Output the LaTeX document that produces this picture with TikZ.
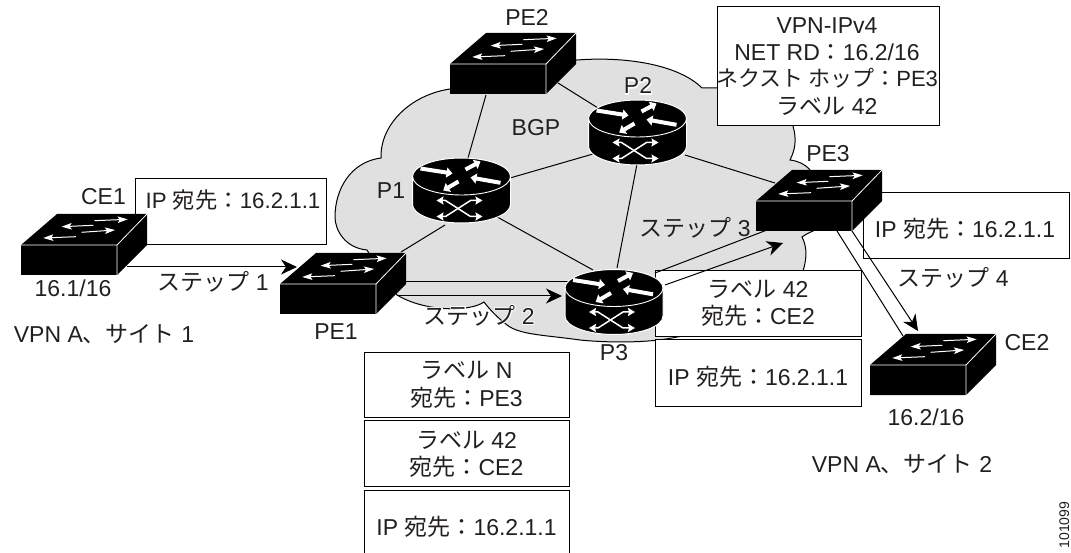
\documentclass[tikz,border=0pt]{standalone}
\usepackage{fontspec}
\setmainfont{Liberation Sans}
\newfontfamily\jpfont{Noto Sans CJK JP}
\newfontfamily\jphalo[FakeBold=8]{Noto Sans CJK JP}
\newfontfamily\lathalo[FakeBold=8]{Liberation Sans}
\newcommand\jp[1]{{\jpfont #1}}
\usetikzlibrary{arrows.meta}
\definecolor{cloudgray}{HTML}{E0E0E0}
\definecolor{inkgray}{HTML}{231F20}
\tikzset{
  lbl/.style={anchor=base,inner sep=0pt,text=inkgray,font=\fontsize{23}{27}\selectfont},
  smalllbl/.style={lbl,font=\fontsize{22.3}{26}\selectfont},
  infobox/.style={draw=black,fill=white,line width=1pt},
  link/.style={draw=black,line width=1pt},
  flow/.style={draw=black,line width=1pt,-{Stealth[length=16pt,width=15pt,inset=5pt]}},
  swarrow/.style={draw=white,line width=1pt,-{Stealth[length=10pt,width=6.5pt,inset=2pt]}},
  rtarrow/.style={draw=white,line width=4pt,-{Triangle[length=6pt,width=10pt]}},
  xarrow/.style={draw=white,line width=1.5pt,{Stealth[length=7pt,width=8pt,inset=1pt]}-{Stealth[length=7pt,width=8pt,inset=1pt]}},
  devnode/.style={inner sep=0pt,minimum width=#1,minimum height=30pt},
}
\newcommand\switchicon[3]{%
  \begin{scope}[shift={(#2,#3)}]
    \fill[black] (0,0) -- (36,-31) -- (126,-31) -- (126,0) -- (96,30) -- (0,30) -- cycle;
    \draw[white,line width=0.8pt] (0,0) -- (96,0) -- (96,30) (96,0) -- (126,-31) ;
    \draw[swarrow] (73.3,-24.3) -- (106.7,-25.7);
    \draw[swarrow] (72.3,-19.7) -- (40.7,-18.3);
    \draw[swarrow] (60.7,-12.7) -- (94,-15);
    \draw[swarrow] (55,-8.3) -- (22.3,-7);
    \node[devnode=96pt] (#1) at (48,15) {};
  \end{scope}}
\newcommand\routericon[3]{%
  \begin{scope}[shift={(#2,#3)}]
    \filldraw[fill=black,draw=white,line width=1pt] (-49,0) -- (-49,28) arc[start angle=180,end angle=0,x radius=49,y radius=18.5] -- (49,0) arc[start angle=0,end angle=-180,x radius=49,y radius=18.5] -- cycle;
    \draw[white,line width=0.9pt] (-49,0) arc[start angle=180,end angle=0,x radius=49,y radius=18.5];
    \draw[rtarrow] (-41,-8) -- (-9,-3);
    \draw[rtarrow] (4,-7) -- (19,-15);
    \draw[rtarrow] (39,6.3) -- (9,1);
    \draw[rtarrow] (-3,5) -- (-18.3,14);
    \draw[xarrow] (-25,24) -- (-16,24) -- (9,40) -- (21,40);
    \draw[xarrow] (-25,40) -- (-16,40) -- (9,24) -- (21,24);
    \node[devnode=96pt] (#1) at (0,14) {};
  \end{scope}}
\begin{document}
\begin{tikzpicture}[x=1pt,y=-1pt]
\useasboundingbox (0,0) rectangle (1071,553);
% cloud
\filldraw[fill=cloudgray,draw=black,line width=1pt]
  (560,62) -- (577,60) .. controls (630,56) and (680,66) .. (702,88)
  -- (725,88) -- (793,120) -- (793,126)
  .. controls (797,140) and (795,150) .. (790,160)
  .. controls (798,161) and (805,164) .. (810,170)
  -- (825,225) -- (813,231)
  .. controls (808,233) and (805,235) .. (802,237)
  .. controls (806,245) and (808,255) .. (803,271)
  -- (780,320) -- (677,337)
  .. controls (650,343) and (610,343) .. (580,340)
  .. controls (545,335) and (520,335) .. (507,325)
  .. controls (498,318) and (490,310) .. (484,302)
  .. controls (470,312) and (425,312) .. (397,295)
  -- (385,280) -- (367,250)
  .. controls (345,248) and (335,230) .. (335,217)
  .. controls (335,190) and (350,162) .. (381,158)
  .. controls (380,125) and (410,95) .. (450,89)
  -- (470,70) -- cycle;
% connector end points
\coordinate (e1) at (486,95);   \coordinate (e2) at (468,158);
\coordinate (e3) at (558,83);   \coordinate (e4) at (598,108);
\coordinate (e5) at (510,178);  \coordinate (e6) at (593,154);
\coordinate (e7) at (685,155);  \coordinate (e8) at (775,183);
\coordinate (e9) at (637,164);  \coordinate (e10) at (617,268);
\coordinate (e11) at (490,213); \coordinate (e12) at (593,270);
\coordinate (e13) at (445,225); \coordinate (e14) at (401,252);
\coordinate (e15) at (400,282); \coordinate (e16) at (570,282);
\coordinate (e17) at (655,273); \coordinate (e18) at (767,230);
\coordinate (e19) at (837,231); \coordinate (e20) at (903,336);
\coordinate (a1) at (127,267);  \coordinate (a2) at (297,267);
\coordinate (a3) at (397,296);  \coordinate (a4) at (562,296);
\coordinate (a5) at (665,285);  \coordinate (a6) at (783,243);
\coordinate (a7) at (852,231);  \coordinate (a8) at (918,331);
% links
\draw[link] (e1) -- (e2);
\draw[link] (e3) -- (e4);
\draw[link] (e5) -- (e6);
\draw[link] (e7) -- (e8);
\draw[link] (e9) -- (e10);
\draw[link] (e11) -- (e12);
\draw[link] (e13) -- (e14);
\draw[link] (e15) -- (e16);
\draw[link] (e19) -- (e20);
% info boxes
\node[infobox,minimum width=191pt,minimum height=66pt] (boxCE) at (230.5,212) {};
\node[infobox,minimum width=222pt,minimum height=119pt] (boxVPN) at (828,66.5) {};
\node[infobox,minimum width=206pt,minimum height=66pt] (boxPE3) at (966,226) {};
\node[infobox,minimum width=206pt,minimum height=66pt] (boxL42) at (758,304) {};
\node[infobox,minimum width=206pt,minimum height=66pt] (boxIP) at (758,373) {};
\node[infobox,minimum width=205pt,minimum height=65pt] (boxN) at (466.5,384.5) {};
\node[infobox,minimum width=205pt,minimum height=66pt] (boxM) at (466.5,453) {};
\node[infobox,minimum width=205pt,minimum height=70pt] (boxB) at (466.5,525) {};
\draw[link] (e17) -- (e18);
% flow arrows
\draw[flow] (a1) -- (a2);
\draw[flow] (a3) -- (a4);
\draw[flow] (a5) -- (a6);
\draw[flow] (a7) -- (a8);
% devices
\switchicon{CE1}{21}{245}
\switchicon{PE1}{280}{284}
\switchicon{PE2}{450}{64}
\switchicon{PE3}{756}{201}
\switchicon{CE2}{870}{365}
\routericon{P1}{461.5}{176.5}
\routericon{P2}{637.5}{118.5}
\routericon{P3}{614}{288}
% labels
\node[lbl] (tCE1) at (103.5,205) {CE1};
\node[smalllbl] (tIP1) at (233,209) {IP \jp{宛先：}16.2.1.1};
\node[lbl] (t161) at (73,297) {16.1/16};
\node[lbl] (tS1) at (213,291) {\jp{ステップ} 1};
\node[lbl] (tSite1) at (104,342) {VPN A\jp{、サイト} 1};
\node[lbl] (tPE1) at (336,339) {PE1};
\node[lbl] (tP1) at (391,199) {P1};
\node[lbl] (tPE2) at (527,26) {PE2};
\node[lbl] (tBGP) at (536,136) {BGP};
\node[lbl] (tP2) at (638,94) {\rlap{\color{white}\lathalo P2}P2};
\node[lbl] (tV1) at (827,34) {VPN-IPv4};
\node[lbl] (tV2) at (827,61) {NET RD\jp{：}16.2/16};
\node[lbl,font=\fontsize{22}{26}\selectfont] (tV3) at (827,87) {\jp{ネクスト ホップ：}PE3};
\node[lbl] (tV4) at (827,115) {\jp{ラベル} 42};
\node[lbl] (tPE3) at (828,162) {PE3};
\node[lbl] (tS3) at (695,237) {\jp{ステップ} 3};
\node[lbl] (tIP3) at (965,238) {IP \jp{宛先：}16.2.1.1};
\node[lbl] (tS4) at (953,287) {\jp{ステップ} 4};
\node[lbl] (tL1) at (758,298) {\jp{ラベル} 42};
\node[lbl] (tL2) at (758,325) {\jp{宛先：}CE2};
\node[lbl] (tIP4) at (758,385) {IP \jp{宛先：}16.2.1.1};
\node[lbl] (tP3) at (614,360) {P3};
\node[lbl] (tN1) at (466.5,378) {\jp{ラベル} N};
\node[lbl] (tN2) at (466.5,406) {\jp{宛先：}PE3};
\node[lbl] (tM1) at (466.5,448) {\jp{ラベル} 42};
\node[lbl] (tM2) at (466.5,475) {\jp{宛先：}CE2};
\node[lbl] (tB1) at (466.5,535) {IP \jp{宛先：}16.2.1.1};
\node[lbl] (tS2) at (479,324) {\rlap{\color{white}{\jphalo ステップ} {\lathalo 2}}\jp{ステップ} 2};
\node[lbl] (tCE2) at (1027,351) {CE2};
\node[lbl] (t162) at (926,425) {16.2/16};
\node[lbl] (tSite2) at (902,472) {VPN A\jp{、サイト} 2};
\node[lbl,font=\fontsize{14}{16}\selectfont,rotate=90] (tID) at (1069,525) {101099};
\end{tikzpicture}
\end{document}
